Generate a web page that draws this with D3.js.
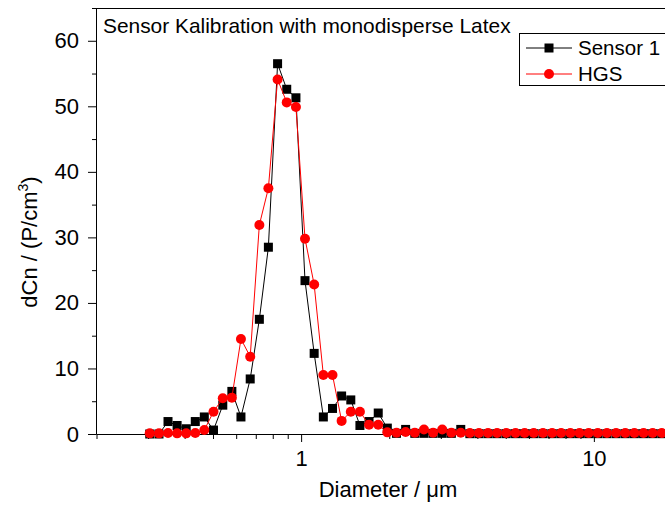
<!DOCTYPE html>
<html>
<head>
<meta charset="utf-8">
<script src="https://cdn.jsdelivr.net/npm/d3@7"></script>
<style>
  body { margin: 0; background: #fff; }
  svg { display: block; font-family: Arial, "Liberation Sans", sans-serif; }
</style>
</head>
<body>
<svg id="Graph" width="665" height="516"></svg>
<script>
// diameter channels (um)
let diameters = [0.304, 0.327, 0.351, 0.377, 0.405, 0.435, 0.467, 0.502, 0.540, 0.580,
    0.623, 0.670, 0.720, 0.773, 0.831, 0.893, 0.960, 1.031, 1.108, 1.191,
    1.280, 1.375, 1.478, 1.588, 1.706, 1.834, 1.970, 2.117, 2.275, 2.445,
    2.628, 2.824, 3.034, 3.26, 3.51, 3.77, 4.05, 4.35, 4.67, 5.02,
    5.40, 5.80, 6.23, 6.70, 7.20, 7.73, 8.31, 8.93, 9.60, 10.31,
    11.08, 11.91, 12.80, 13.75, 14.78, 15.88, 17.06, 18.34, 19.70]

let sensor1 = [0, 0, 1.9, 1.3, 0.8, 1.9, 2.6, 0.6, 4.4, 6.5,
    2.6, 8.4, 17.5, 28.5, 56.5, 52.6, 51.3, 23.4, 12.3, 2.6,
    3.9, 5.8, 5.2, 1.3, 1.9, 3.2, 0.9, 0.1, 0.7, 0.1,
    0.1, 0.1, 0.1, 0.1, 0.7, 0.05, 0.05, 0.05, 0.05, 0.05,
    0.05, 0.05, 0.05, 0.05, 0.05, 0.05, 0.05, 0.05, 0.05, 0.05,
    0.05, 0.05, 0.05, 0.05, 0.05, 0.05, 0.05, 0.05, 0.05]

let hgs = [0.1, 0.1, 0.15, 0.1, 0.1, 0.15, 0.6, 3.4, 5.45, 5.55,
    14.5, 11.8, 31.9, 37.5, 54.1, 50.6, 49.9, 29.8, 22.8, 9.0,
    9.0, 2.0, 3.4, 3.4, 1.4, 1.4, 0.25, 0.2, 0.3, 0.2,
    0.7, 0.2, 0.7, 0.2, 0.2, 0.15, 0.15, 0.15, 0.15, 0.15,
    0.15, 0.15, 0.15, 0.15, 0.15, 0.15, 0.15, 0.15, 0.15, 0.15,
    0.15, 0.15, 0.15, 0.15, 0.15, 0.15, 0.15, 0.15, 0.15]

let xMajorTicks = [1, 10]
let xMinorTicks = [0.2, 0.3, 0.4, 0.5, 0.6, 0.7, 0.8, 0.9, 2, 3, 4, 5, 6, 7, 8, 9, 20]
let yMajorTicks = [0, 10, 20, 30, 40, 50, 60]
let yMinorTicks = [5, 15, 25, 35, 45, 55, 65]

let title = "Sensor Kalibration with monodisperse Latex"
let seriesNames = ["Sensor 1", "HGS"]

let svg = d3.select("#Graph")

let margin = { left: 96, top: 8, bottom: 434, right: 682 }

let xScale = d3.scaleLog()
    .domain([0.2, 20])
    .range([margin.left + 0.5, margin.right])

let yScale = d3.scaleLinear()
    .domain([0, 65])
    .range([margin.bottom, margin.top])

// top frame line
svg.append("line")
    .attr("x1", margin.left).attr("x2", margin.right)
    .attr("y1", margin.top + 0.5).attr("y2", margin.top + 0.5)
    .attr("stroke", "#000").attr("stroke-width", 1)

// axes
function styleAxis(g, size) {
    g.selectAll("path").attr("stroke", "#000").attr("stroke-width", 1)
    g.selectAll("line").attr("stroke", "#000").attr("stroke-width", 1)
    g.selectAll("text").attr("font-size", size).attr("fill", "#000")
        .attr("font-family", "Arial, 'Liberation Sans', sans-serif")
}

let xMinor = svg.append("g")
    .attr("transform", `translate(0,${margin.bottom})`)
    .call(d3.axisBottom(xScale).tickValues(xMinorTicks).tickSize(5).tickSizeOuter(0).tickFormat(""))
styleAxis(xMinor, 22)

let xMajor = svg.append("g")
    .attr("transform", `translate(0,${margin.bottom})`)
    .call(d3.axisBottom(xScale).tickValues(xMajorTicks).tickSize(8).tickSizeOuter(0).tickPadding(8).tickFormat(d3.format("d")))
styleAxis(xMajor, 22)

let yMinor = svg.append("g")
    .attr("transform", `translate(${margin.left},0)`)
    .call(d3.axisLeft(yScale).tickValues(yMinorTicks).tickSize(4).tickSizeOuter(0).tickFormat(""))
styleAxis(yMinor, 22)

let yMajor = svg.append("g")
    .attr("transform", `translate(${margin.left},0)`)
    .call(d3.axisLeft(yScale).tickValues(yMajorTicks).tickSize(8).tickSizeOuter(0).tickPadding(9))
styleAxis(yMajor, 22)

// axis titles
svg.append("text")
    .attr("x", (margin.left + margin.right) / 2 - 1)
    .attr("y", 497)
    .attr("text-anchor", "middle")
    .attr("font-size", 22)
    .text("Diameter / \u03bcm")

let yTitle = svg.append("text")
    .attr("transform", "translate(37,242) rotate(-90)")
    .attr("text-anchor", "middle")
    .attr("font-size", 22)
yTitle.append("tspan").text("dCn / (P/cm")
yTitle.append("tspan").attr("font-size", 14).attr("dy", -9).text("3")
yTitle.append("tspan").attr("dy", 9).text(")")

// title
svg.append("text")
    .attr("x", 103)
    .attr("y", 33)
    .attr("font-size", 20.9)
    .text(title)

// series
let series = [
    { name: seriesNames[0], values: sensor1, color: "#000000", shape: "square" },
    { name: seriesNames[1], values: hgs, color: "#ff0000", shape: "circle" }
]

let line = d3.line()
    .x(d => xScale(d.x))
    .y(d => yScale(d.y))

let clip = svg.append("defs").append("clipPath").attr("id", "plotClip")
clip.append("rect").attr("x", 0).attr("y", 0).attr("width", 665).attr("height", margin.bottom + 8)

function drawMarker(g, shape, color, x, y) {
    if (shape === "square") {
        g.append("rect")
            .attr("x", x - 4.5).attr("y", y - 4.5)
            .attr("width", 9).attr("height", 9)
            .attr("fill", color)
    } else {
        g.append("circle")
            .attr("cx", x).attr("cy", y).attr("r", 5)
            .attr("fill", color)
    }
}

series.forEach(s => {
    let pts = diameters.map((d, i) => ({ x: d, y: s.values[i] }))
    let g = svg.append("g").attr("clip-path", "url(#plotClip)")
    g.append("path")
        .datum(pts)
        .attr("d", line)
        .attr("fill", "none")
        .attr("stroke", s.color)
        .attr("stroke-width", 1)
    pts.forEach(p => drawMarker(g, s.shape, s.color, xScale(p.x), yScale(p.y)))
})

// legend
let legend = svg.append("g")
legend.append("rect")
    .attr("x", 519.5).attr("y", 33.5)
    .attr("width", 200).attr("height", 52)
    .attr("fill", "#fff")
    .attr("stroke", "#000").attr("stroke-width", 1)

series.forEach((s, i) => {
    let ly = 48 + i * 26
    legend.append("line")
        .attr("x1", 526).attr("x2", 572)
        .attr("y1", ly).attr("y2", ly)
        .attr("stroke", s.color).attr("stroke-width", 1)
    drawMarker(legend, s.shape, s.color, 549, ly)
    legend.append("text")
        .attr("x", 578).attr("y", ly + 7)
        .attr("font-size", 20.5)
        .text(s.name)
})
</script>
</body>
</html>
